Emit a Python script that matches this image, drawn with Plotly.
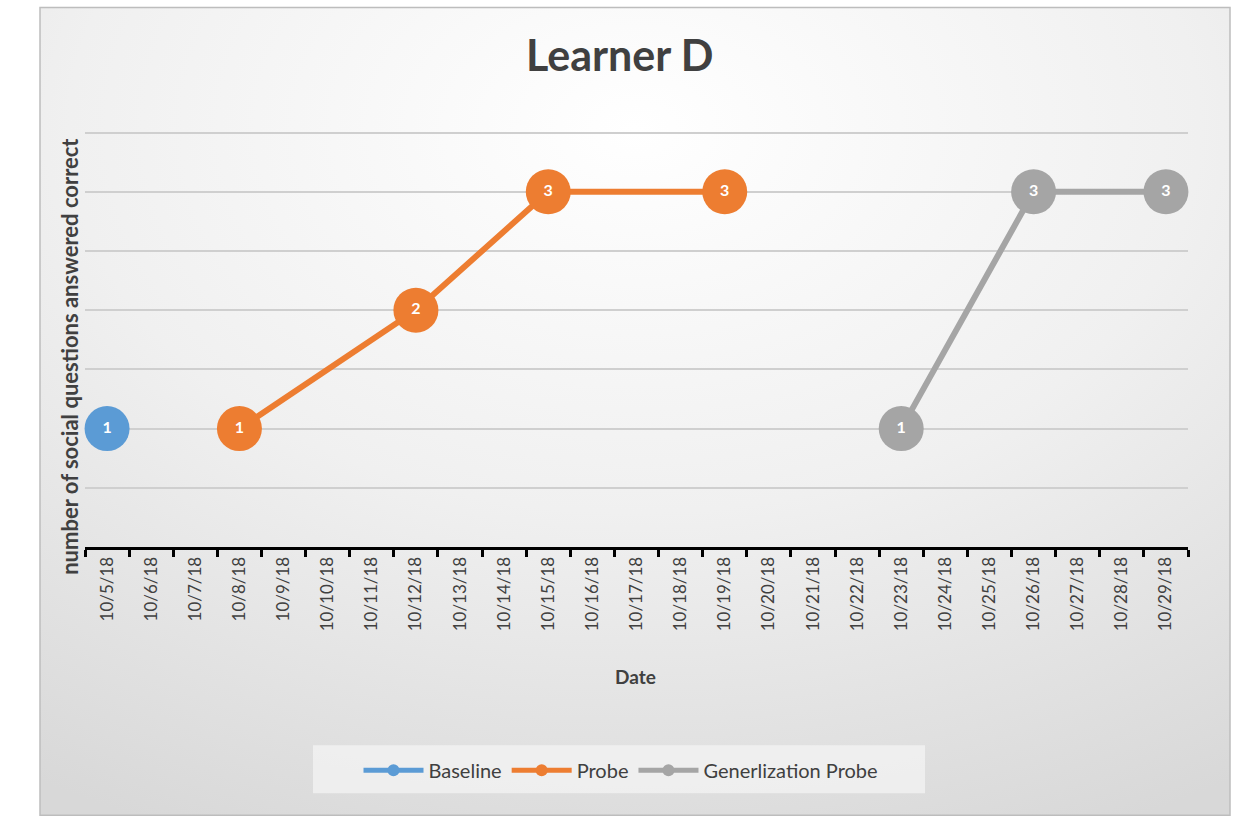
import base64
import plotly.graph_objects as go

dates = ["10/5/18", "10/6/18", "10/7/18", "10/8/18", "10/9/18", "10/10/18", "10/11/18",
         "10/12/18", "10/13/18", "10/14/18", "10/15/18", "10/16/18", "10/17/18", "10/18/18",
         "10/19/18", "10/20/18", "10/21/18", "10/22/18", "10/23/18", "10/24/18", "10/25/18",
         "10/26/18", "10/27/18", "10/28/18", "10/29/18"]

baseline_dates = ["10/5/18"]
baseline_vals = [1]
probe_dates = ["10/8/18", "10/12/18", "10/15/18", "10/19/18"]
probe_vals = [1, 2, 3, 3]
gen_dates = ["10/23/18", "10/26/18", "10/29/18"]
gen_vals = [1, 3, 3]

series = [
    ("Baseline", baseline_dates, baseline_vals, "#5B9BD5"),
    ("Probe", probe_dates, probe_vals, "#ED7D31"),
    ("Generlization Probe", gen_dates, gen_vals, "#A5A5A5"),
]

FONT = "Lato"
fig = go.Figure()
for name, xs, ys, col in series:
    fig.add_trace(go.Scatter(
        x=xs, y=ys, name=name, mode="lines+markers+text",
        text=[str(v) for v in ys], textposition="middle center",
        textfont=dict(family=FONT, size=16, color="white", weight="bold"),
        line=dict(color=col, width=6),
        marker=dict(color=col, size=45, symbol="circle"),
        cliponaxis=False,
    ))

svg = """<svg xmlns='http://www.w3.org/2000/svg' width='1190' height='807' viewBox='0 0 1190 807' preserveAspectRatio='none'>
<defs><radialGradient id='g' cx='0.5' cy='0.15' r='0.95' gradientUnits='objectBoundingBox'>
<stop offset='0' stop-color='#ffffff'/><stop offset='0.5' stop-color='#f0f0f0'/><stop offset='1' stop-color='#d8d8d8'/>
</radialGradient></defs><rect x='0' y='0' width='1190' height='807' fill='url(#g)'/></svg>"""
uri = "data:image/svg+xml;base64," + base64.b64encode(svg.encode()).decode()

YMAX = 3.53
L, R, B = 85, 1188, 547
T = B - (B - 133) * YMAX / 3.5
PW, PH = R - L, B - T
def px(x):
    return (x - L) / PW
def py(y):
    return (B - y) / PH

fig.add_layout_image(dict(source=uri, xref="paper", yref="paper", x=px(40), y=py(8),
                          sizex=px(1230) - px(40), sizey=py(8) - py(815),
                          sizing="stretch", layer="below", xanchor="left", yanchor="top"))
fig.add_shape(type="rect", xref="paper", yref="paper", x0=px(40), x1=px(1230), y0=py(815), y1=py(8),
              line=dict(color="#bdbdbd", width=1.5), fillcolor="rgba(0,0,0,0)", layer="below")
# legend box
fig.add_shape(type="rect", xref="paper", yref="paper", x0=px(313), x1=px(925), y0=py(793), y1=py(745),
              line=dict(width=0), fillcolor="rgba(245,245,245,0.7)", layer="below")

fig.add_annotation(text="<b>number of social questions answered correct</b>", xref="paper", yref="paper",
                   x=px(70), y=py(357), textangle=-90, showarrow=False, xanchor="center", yanchor="middle",
                   font=dict(family=FONT, size=22, color="#404040"))
fig.add_annotation(text="<b>Date</b>", xref="paper", yref="paper", x=px(635), y=py(676),
                   showarrow=False, xanchor="center", yanchor="middle",
                   font=dict(family=FONT, size=19, color="#404040"))
fig.add_annotation(text="<b>Learner D</b>", xref="paper", yref="paper", x=px(620), y=py(55),
                   showarrow=False, xanchor="center", yanchor="middle",
                   font=dict(family=FONT, size=43, color="#404040"))

fig.update_layout(
    width=1243, height=824,
    margin=dict(l=L, r=1243 - R, t=T, b=824 - B, autoexpand=False),
    paper_bgcolor="white", plot_bgcolor="rgba(0,0,0,0)",
    showlegend=True,
    legend=dict(orientation="h", x=px(621), xanchor="center", y=py(770), yanchor="middle",
                font=dict(family=FONT, size=20, color="#404040"), bgcolor="rgba(0,0,0,0)",
                itemsizing="constant", itemwidth=60, traceorder="normal"),
    font=dict(family=FONT, color="#404040"),
)
fig.update_xaxes(
    type="category", categoryorder="array", categoryarray=dates,
    tickvals=dates, ticktext=dates,
    range=[-0.5, len(dates) - 0.5], tickson="boundaries",
    ticks="outside", ticklen=7, tickwidth=2.5, tickcolor="black",
    showline=True, linecolor="black", linewidth=3, showgrid=False, zeroline=False,
    tickangle=-90, tickfont=dict(family=FONT, size=17, color="#404040"),
)
fig.update_yaxes(
    range=[0, YMAX], tickvals=[0.5, 1, 1.5, 2, 2.5, 3, 3.5], showticklabels=False, ticks="",
    showgrid=True, gridcolor="#cfcfcf", gridwidth=1.5, zeroline=False, showline=False,
)
fig.write_html("out.html", config={"displayModeBar": False},
               post_script="document.body.style.margin='0px';")
